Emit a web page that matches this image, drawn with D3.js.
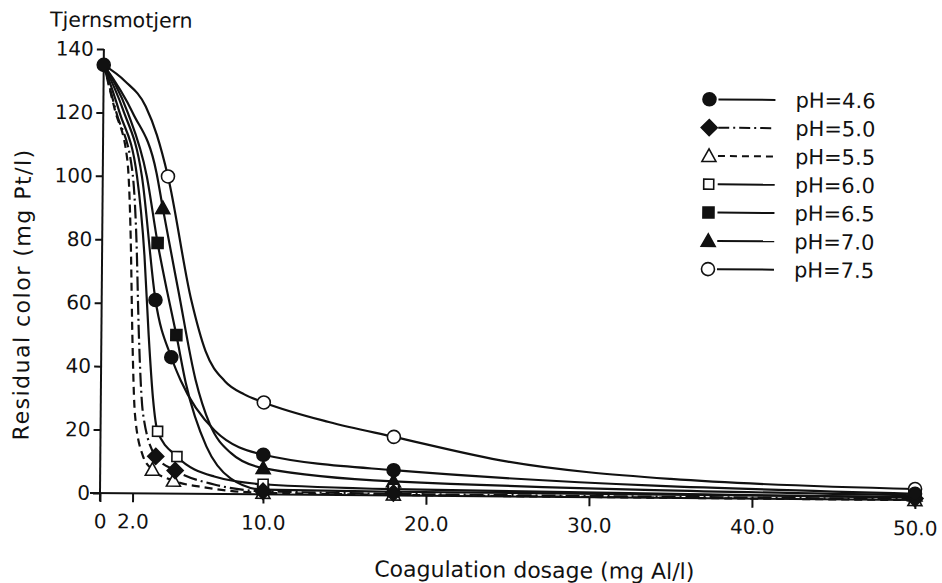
<!DOCTYPE html>
<html><head><meta charset="utf-8">
<script src="https://cdn.jsdelivr.net/npm/d3@7/dist/d3.min.js"></script>
<style>
html,body{margin:0;padding:0;background:#fff;}
svg{display:block;}
text{font-family:"DejaVu Sans",sans-serif;fill:#111;}
</style></head>
<body>
<svg id="chart" width="942" height="583"></svg>
<script>
// ---- data (dose mg Al/l, residual colour mg Pt/l) ----
const seriesLabels = ["pH=4.6","pH=5.0","pH=5.5","pH=6.0","pH=6.5","pH=7.0","pH=7.5"];
const xTickValues = [0, 2, 10, 20, 30, 40, 50];
const xTickLabels = ["0", "2.0", "10.0", "20.0", "30.0", "40.0", "50.0"];
const yTickValues = [0, 20, 40, 60, 80, 100, 120, 140];

// measured points (markers)
const pts46 = [[0,135],[3.3,61],[4.3,43],[10,12.5],[18,8],[50,2]];
const pts50 = [[3.4,11.7],[4.6,7.3],[10,1],[18,0.8],[50,0.5]];
const pts55 = [[3.2,7.5],[4.5,4.1],[10,0.5],[18,0.3],[50,0]];
const pts60 = [[3.5,19.6],[4.7,11.7],[10,3.2],[18,2],[50,0.8]];
const pts65 = [[3.4,79],[4.6,50],[10,1.5],[18,1.2],[50,1]];
const pts70 = [[3.7,90],[10,8.3],[18,4.5],[50,1.5]];
const pts75 = [[4.0,100],[10,29],[18,18.5],[50,3.5]];

// fitted curves as drawn in the figure
const curve46 = [[0,135],[1.2,121],[2.4,100],[3.3,61],[4.3,43],[4.9,35.6],[7,20],[10,12.5],[18,8],[50,2]];
const curve50 = [[0,135],[0.8,120],[1.8,102],[2.1,80],[2.3,50],[2.6,25],[3.4,11.7],[4.6,7.3],[7,3],[10,1],[20,0.5],[50,0.3]];
const curve55 = [[0,135],[0.7,121],[1.5,105],[1.75,80],[1.9,50],[2.1,25],[2.6,12],[3.2,7.5],[4.5,4.1],[6.5,2],[10,0.5],[20,0.2],[50,0]];
const curve60 = [[0,135],[1.0,120],[2.1,100],[2.6,75],[2.9,50],[3.2,30],[3.5,19.6],[4.7,11.7],[7,5.5],[10,3.2],[18,2],[50,0.8]];
const curve65 = [[0,135],[1.5,120],[2.7,100],[3.4,79],[4.0,64],[4.6,50],[5.2,35],[6.5,15],[8,5],[10,1.5],[18,1.2],[50,1]];
const curve70 = [[0,135],[1.8,120],[3.3,101],[3.7,90],[4.7,64],[5.8,36],[6.7,22],[8,13],[10,8.3],[18,4.5],[50,1.5]];
const curve75 = [[0,135],[1.3,130],[2.6,122],[3.3,113],[4.0,100],[5.5,61],[6.4,45],[7.6,35.6],[8.8,31.5],[10,29],[14,23],[18,18.5],[25,11],[35,6],[50,3.5]];

const curves = [curve46, curve50, curve55, curve60, curve65, curve70, curve75];
const points = [pts46, pts50, pts55, pts60, pts65, pts70, pts75];
const markerTypes = ["circleF","diamondF","triangleO","squareO","squareF","triangleF","circleO"];
const dashes = [null, "14,4,2,4", "8,5", null, null, null, null];

// ---- layout ----
const svg = d3.select("#chart");
const ink = "#111";
const FONT = '"DejaVu Sans",sans-serif';
const x = d3.scaleLinear().domain([0, 50]).range([100, 915]);
const y = d3.scaleLinear().domain([0, 140]).range([493, 49]);

const g = svg.append("g").attr("transform", "rotate(0.5,100,493)");

// axes
const xAxis = d3.axisBottom(x).tickValues(xTickValues).tickFormat((d,i)=>xTickLabels[i]).tickSize(9).tickPadding(12).tickSizeOuter(0);
const yAxis = d3.axisLeft(y).tickValues(yTickValues).tickSize(7).tickPadding(3).tickSizeOuter(0);

const gx = g.append("g").attr("transform", "translate(0,493)").call(xAxis);
gx.select(".domain").attr("d", `M${x(0)-10},0H${x(50)}`);
const gy = g.append("g").attr("transform", "translate(100,0)").call(yAxis);
gy.select(".domain").attr("d", `M0,${y(0)+8}V${y(140)}`);
[gx, gy].forEach(a => {
  a.selectAll("path,line").attr("stroke", ink).attr("stroke-width", 2);
  a.selectAll("text").attr("font-size", 20).attr("fill", ink).style("font-family", FONT);
});

// axis titles
g.append("text").attr("x", 535).attr("y", 574).attr("text-anchor", "middle")
  .attr("font-size", 22).text("Coagulation dosage (mg Al/l)");
g.append("text").attr("transform", "translate(28,295) rotate(-90)").attr("text-anchor", "middle")
  .attr("font-size", 22).attr("letter-spacing", 1.5).text("Residual color (mg Pt/l)");
g.append("text").attr("x", 46).attr("y", 27).attr("font-size", 20.5).text("Tjernsmotjern");

// curves
const line = d3.line().x(d => x(d[0])).y(d => y(d[1])).curve(d3.curveMonotoneX);
curves.forEach((c, i) => {
  g.append("path").attr("d", line(c)).attr("fill", "none").attr("stroke", ink)
    .attr("stroke-width", 2.2).attr("stroke-dasharray", dashes[i]);
});

// markers
function marker(sel, type, cx, cy) {
  const open = type.endsWith("O");
  const fill = open ? "#fff" : ink;
  let m;
  if (type.startsWith("circle")) m = sel.append("circle").attr("cx", cx).attr("cy", cy).attr("r", 6.5);
  else if (type.startsWith("square")) { const s = open ? 10 : 11; m = sel.append("rect").attr("x", cx - s/2).attr("y", cy - s/2).attr("width", s).attr("height", s); }
  else if (type.startsWith("diamond")) m = sel.append("path").attr("d", `M${cx},${cy-8}L${cx+8},${cy}L${cx},${cy+8}L${cx-8},${cy}Z`);
  else m = sel.append("path").attr("d", `M${cx},${cy-7}L${cx+7},${cy+5.5}L${cx-7},${cy+5.5}Z`);
  m.attr("fill", fill).attr("stroke", ink).attr("stroke-width", 1.6);
}
for (let i = points.length - 1; i >= 0; i--) {
  points[i].forEach(p => marker(g, markerTypes[i], x(p[0]), y(p[1])));
}

// legend
const legY0 = 94, legStep = 28.3;
seriesLabels.forEach((lab, i) => {
  const yy = legY0 + i * legStep;
  g.append("line").attr("x1", 715).attr("x2", 772).attr("y1", yy).attr("y2", yy)
    .attr("stroke", ink).attr("stroke-width", 2).attr("stroke-dasharray", i === 1 ? "11,4,2,4" : i === 2 ? "7,5" : null);
  marker(g, markerTypes[i], 706, yy);
  g.append("text").attr("x", 792).attr("y", yy + 7.5).attr("font-size", 21).text(lab);
});
</script>
</body></html>
